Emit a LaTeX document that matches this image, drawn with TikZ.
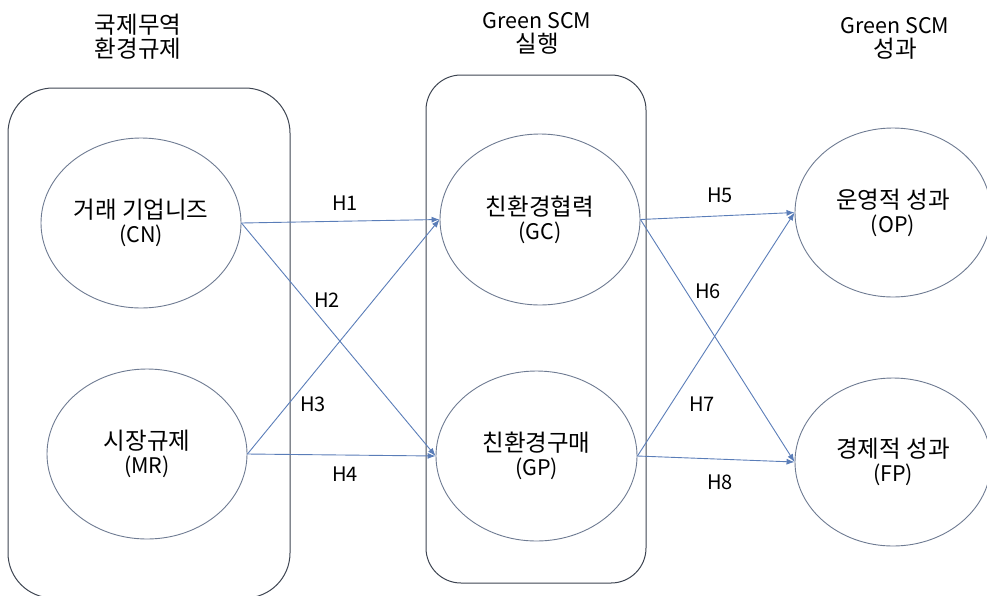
\documentclass[tikz,border=0pt]{standalone}
\usepackage{fontspec}
\setmainfont{Noto Sans CJK KR}
\usetikzlibrary{shapes.geometric,arrows.meta}
\definecolor{boxc}{HTML}{3E4552}
\definecolor{ellc}{HTML}{6E7B92}
\definecolor{arrc}{HTML}{5A7DB8}
\newcommand\kr[1]{{\fontsize{23.5}{24}\selectfont #1}}
\begin{document}
\begin{tikzpicture}[x=1pt,y=-1pt,
  txt/.style={font=\fontsize{21.5}{24}\selectfont, align=center, inner sep=0pt},
  grp/.style={draw=boxc, line width=1pt},
  cons/.style={ellipse, draw=ellc, line width=0.9pt, inner sep=0pt, font=\fontsize{21.5}{24}\selectfont, align=center},
  arr/.style={draw=arrc, line width=0.9pt, -{Latex[length=8pt,width=6pt]}},
  hlab/.style={font=\fontsize{20}{22}\selectfont, inner sep=0pt}]
\useasboundingbox (0,0) rectangle (987,595);
% group boxes
\draw[grp, rounded corners=45pt] (8,88) rectangle (290,598);
\draw[grp, rounded corners=35pt] (426,75) rectangle (646,583);
% titles
\node[txt] (t1) at (138,37) {\kr{국제무역}\\\kr{환경규제}};
\node[txt] (t2) at (537,33) {Green SCM\\\kr{실행}};
\node[txt] (t3) at (895,38) {Green SCM\\\kr{성과}};
% constructs
\node[cons, minimum width=200pt, minimum height=170pt] (CN) at (141,223) {\kr{거래 기업니즈}\\(CN)};
\node[cons, minimum width=200pt, minimum height=170pt] (MR) at (147,454) {\kr{시장규제}\\(MR)};
\node[cons, minimum width=200pt, minimum height=171pt] (GC) at (540,219.5) {\kr{친환경협력}\\(GC)};
\node[cons, minimum width=201pt, minimum height=170pt] (GP) at (536.5,456) {\kr{친환경구매}\\(GP)};
\node[cons, minimum width=196pt, minimum height=169pt] (OP) at (893,212.5) {\kr{운영적 성과}\\(OP)};
\node[cons, minimum width=196pt, minimum height=168pt] (FP) at (893,462) {\kr{경제적 성과}\\(FP)};
% connectors
\draw[arr] (CN.east) -- (GC.west);
\draw[arr] (CN.east) -- (GP.west);
\draw[arr] (MR.east) -- (GC.west);
\draw[arr] (MR.east) -- (GP.west);
\draw[arr] (GC.east) -- (OP.west);
\draw[arr] (GC.east) -- (FP.west);
\draw[arr] (GP.east) -- (OP.west);
\draw[arr] (GP.east) -- (FP.west);
% labels
\node[hlab] (h1) at (345,203) {H1};
\node[hlab] (h2) at (327,300) {H2};
\node[hlab] (h3) at (313,404) {H3};
\node[hlab] (h4) at (345,474) {H4};
\node[hlab] (h5) at (720,195) {H5};
\node[hlab] (h6) at (708,291) {H6};
\node[hlab] (h7) at (702,404) {H7};
\node[hlab] (h8) at (720,482) {H8};
\end{tikzpicture}
\end{document}
